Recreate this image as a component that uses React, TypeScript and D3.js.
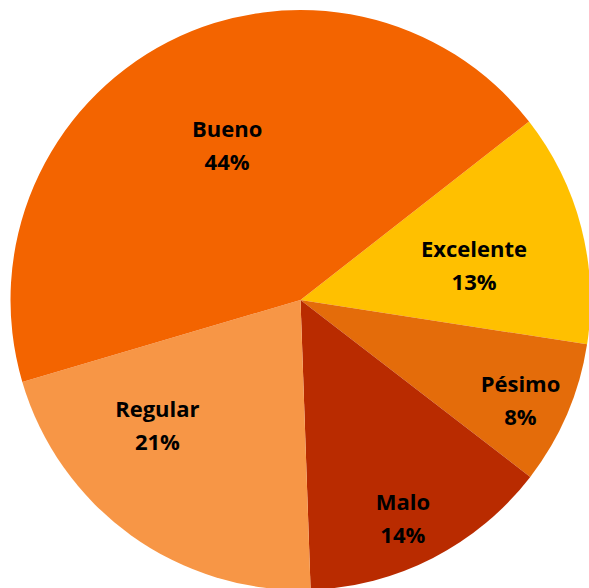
import { useEffect, useRef } from 'react'
import * as d3 from 'd3'

// Datos del gráfico (porcentajes), en orden horario desde arriba a la derecha
const categories = ['Excelente', 'Pésimo', 'Malo', 'Regular', 'Bueno']
const values = [13, 8, 14, 21, 44]
const colors = ['#FFC000', '#E46C0A', '#B92B00', '#F79646', '#F36400']

// Ajuste de etiquetas (fracción del radio, desplazamiento angular en grados)
const labelRadius = [0.61, 0.835, 0.835, 0.657, 0.588]
const labelShift = [3.4, 1.5, 2.2, 12.9, 1.7]

const W = 589
const H = 588

const App = () => {
  const ref = useRef<SVGSVGElement>(null)

  useEffect(() => {
    const svg = d3.select(ref.current)
    svg.selectAll('*').remove()

    const cx = 300.5
    const cy = 300
    const r = 290
    const startDeg = 52

    const pie = d3
      .pie<number>()
      .sort(null)
      .value((d) => d)
      .startAngle((startDeg * Math.PI) / 180)
      .endAngle(((startDeg + 360) * Math.PI) / 180)

    const arcs = pie(values)
    const arc = d3.arc<d3.PieArcDatum<number>>().innerRadius(0).outerRadius(r)

    const g = svg.append('g').attr('transform', `translate(${cx},${cy})`)

    g.selectAll('path')
      .data(arcs)
      .join('path')
      .attr('d', arc)
      .attr('fill', (_, i) => colors[i])

    const total = d3.sum(values)

    const labels = g
      .selectAll('g.label')
      .data(arcs)
      .join('g')
      .attr('class', 'label')
      .attr('transform', (d, i) => {
        const a = (d.startAngle + d.endAngle) / 2 + (labelShift[i] * Math.PI) / 180
        const rr = r * labelRadius[i]
        return `translate(${rr * Math.sin(a)},${-rr * Math.cos(a)})`
      })
      .attr('font-family', '"Open Sans", sans-serif')
      .attr('font-weight', 700)
      .attr('font-size', 22)
      .attr('fill', '#000')
      .attr('text-anchor', 'middle')

    labels
      .append('text')
      .attr('y', -9)
      .text((_, i) => categories[i])

    labels
      .append('text')
      .attr('y', 24)
      .text((d) => `${Math.round((d.value / total) * 100)}%`)
  }, [])

  return (
    <svg
      ref={ref}
      width={W}
      height={H}
      style={{ position: 'absolute', left: 0, top: 0, background: '#fff' }}
    />
  )
}

export default App
